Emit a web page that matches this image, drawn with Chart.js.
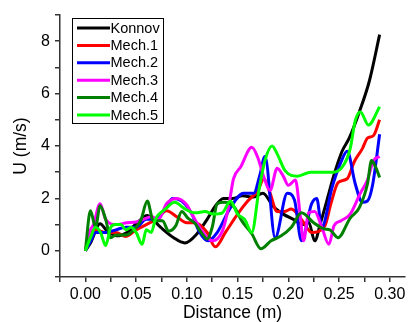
<!DOCTYPE html>
<html>
<head>
<meta charset="utf-8">
<script src="https://cdn.jsdelivr.net/npm/chart.js@4.4.1/dist/chart.umd.min.js"></script>
<style>
    body { margin: 0; background: #fff; }
    #wrap { width: 409px; height: 322px; }
</style>
</head>
<body>
<div id="wrap"><canvas id="myChart"></canvas></div>
<script>
// values (distance in m, velocity U in m/s)
const konnovX = [0, 0.005, 0.0145, 0.021, 0.031, 0.041, 0.051, 0.061, 0.074, 0.087, 0.098, 0.11, 0.12, 0.128, 0.136, 0.145, 0.155, 0.165, 0.175, 0.185, 0.195, 0.205, 0.215, 0.22, 0.226, 0.232, 0.24, 0.245, 0.253, 0.26, 0.27, 0.28, 0.29]
const konnovU = [0, 0.3, 1.03, 0.77, 0.57, 0.7, 1.07, 1.35, 0.9, 0.5, 0.3, 0.65, 1.2, 1.7, 2.0, 2.0, 2.1, 2.05, 2.2, 1.7, 1.4, 1.2, 1.0, 1.1, 0.38, 1.1, 2.2, 2.9, 3.8, 4.3, 5.3, 6.5, 8.25]

const mech1X = [0, 0.005, 0.01, 0.02, 0.03, 0.04, 0.05, 0.06, 0.07, 0.08, 0.09, 0.1, 0.108, 0.12, 0.128, 0.138, 0.15, 0.16, 0.17, 0.176, 0.182, 0.189, 0.196, 0.203, 0.213, 0.223, 0.236, 0.242, 0.249, 0.258, 0.265, 0.273, 0.278, 0.284, 0.29]
const mech1U = [0, 0.6, 0.8, 0.7, 0.7, 0.55, 0.8, 1.0, 1.2, 1.53, 1.3, 1.07, 1.07, 0.7, 0.15, 0.7, 1.4, 1.9, 2.3, 2.75, 2.2, 1.5, 1.5, 1.6, 1.2, 0.7, 0.95, 1.8, 2.6, 2.75, 3.4, 3.9, 4.3, 4.4, 5.0]

const mech2X = [0, 0.005, 0.01, 0.02, 0.03, 0.04, 0.05, 0.06, 0.07, 0.08, 0.086, 0.095, 0.105, 0.112, 0.121, 0.13, 0.143, 0.156, 0.166, 0.172, 0.177, 0.187, 0.199, 0.206, 0.213, 0.223, 0.228, 0.233, 0.243, 0.252, 0.258, 0.266, 0.273, 0.278, 0.283, 0.29]
const mech2U = [0, 0.35, 0.7, 0.7, 0.8, 0.9, 0.9, 1.2, 1.2, 1.7, 2.0, 1.9, 1.4, 0.75, 0.38, 0.7, 1.65, 2.2, 2.2, 2.9, 3.6, 0.5, 2.2, 1.95, 0.38, 1.8, 2.0, 0.9, 2.4, 3.4, 3.8, 2.55, 1.85, 1.9, 2.5, 4.45]

const mech3X = [0, 0.005, 0.008, 0.0145, 0.02, 0.03, 0.041, 0.05, 0.057, 0.065, 0.072, 0.08, 0.09, 0.1, 0.105, 0.115, 0.125, 0.135, 0.141, 0.146, 0.153, 0.164, 0.17, 0.176, 0.182, 0.189, 0.195, 0.2, 0.207, 0.212, 0.215, 0.22, 0.226, 0.233, 0.24, 0.245, 0.252, 0.261, 0.271, 0.278, 0.284, 0.29]
const mech3U = [0, 0.8, 1.0, 1.8, 1.2, 1.0, 1.07, 1.1, 1.2, 1.3, 1.2, 1.8, 2.0, 1.75, 1.4, 0.75, 0.38, 0.75, 1.65, 2.75, 3.2, 3.95, 3.55, 2.8, 2.3, 3.15, 2.85, 2.5, 2.7, 1.25, 0.38, 1.45, 1.5, 0.9, 0.25, 0.95, 1.15, 1.4, 2.2, 2.7, 3.45, 3.6]

const mech4X = [0, 0.005, 0.01, 0.0145, 0.02, 0.025, 0.03, 0.04, 0.05, 0.055, 0.061, 0.067, 0.076, 0.082, 0.089, 0.095, 0.101, 0.108, 0.115, 0.12, 0.125, 0.13, 0.137, 0.147, 0.154, 0.164, 0.173, 0.183, 0.193, 0.203, 0.213, 0.225, 0.235, 0.241, 0.249, 0.261, 0.27, 0.278, 0.282, 0.286, 0.29]
const mech4U = [0, 1.53, 0.9, 1.72, 1.2, 0.5, 0.6, 0.6, 0.9, 1.2, 1.9, 1.15, 1.15, 0.75, 0.95, 1.5, 1.25, 1.05, 0.65, 0.45, 0.9, 1.8, 1.85, 1.65, 1.15, 0.65, 0.08, 0.38, 0.57, 0.9, 1.45, 1.07, 0.84, 0.8, 0.5, 1.25, 1.65, 2.55, 3.45, 3.2, 2.8]

const mech5X = [0, 0.005, 0.01, 0.015, 0.02, 0.025, 0.03, 0.035, 0.04, 0.045, 0.05, 0.056, 0.06, 0.065, 0.069, 0.079, 0.088, 0.098, 0.108, 0.118, 0.126, 0.135, 0.143, 0.15, 0.157, 0.164, 0.171, 0.177, 0.184, 0.189, 0.197, 0.209, 0.222, 0.236, 0.245, 0.255, 0.261, 0.266, 0.271, 0.279, 0.29]
const mech5U = [0, 0.5, 0.9, 0.7, 0.2, 0.9, 1.0, 1.0, 0.8, 0.9, 0.7, 0.25, 0.8, 0.7, 1.2, 1.6, 1.85, 1.6, 1.45, 1.5, 1.4, 1.45, 1.9, 1.4, 1.2, 0.7, 2.3, 3.45, 4.0, 3.7, 3.05, 2.85, 3.0, 3.0, 3.0, 3.3, 3.9, 4.97, 5.3, 4.8, 5.5]

const seriesNames = ["Konnov", "Mech.1", "Mech.2", "Mech.3", "Mech.4", "Mech.5"]
const seriesColours = ["#000000", "#ff0000", "#0000ff", "#ff00ff", "#008000", "#00ff00"]
const seriesX = [konnovX, mech1X, mech2X, mech3X, mech4X, mech5X]
const seriesU = [konnovU, mech1U, mech2U, mech3U, mech4U, mech5U]

const xTickSteps = [-1, 0, 1, 2, 3, 4, 5, 6, 7, 8, 9, 10, 11, 12]   // x 0.025 each
const yTickValues = [-1, 0, 1, 2, 3, 4, 5, 6, 7, 8, 9]

const FONT = "'Liberation Sans', Arial, sans-serif"

// legend box drawn inside the plot, like the original
const boxLegend = {
    id: 'boxLegend',
    afterDraw(chart) {
        const ctx = chart.ctx
        const area = chart.chartArea
        const x0 = area.left + 12.5
        const y0 = area.top + 3.5
        const rowH = 17.4
        const sets = chart.data.datasets
        ctx.save()
        ctx.fillStyle = '#fff'
        ctx.fillRect(x0, y0, 91, 105)
        ctx.strokeStyle = '#000'
        ctx.lineWidth = 1
        ctx.strokeRect(x0, y0, 91, 105)
        ctx.font = '14.5px ' + FONT
        ctx.textBaseline = 'middle'
        for (let i = 0; i < sets.length; i++) {
            const yy = y0 + 9.5 + i * rowH
            ctx.strokeStyle = sets[i].borderColor
            ctx.lineWidth = 3
            ctx.beginPath()
            ctx.moveTo(x0 + 4.5, yy)
            ctx.lineTo(x0 + 37.5, yy)
            ctx.stroke()
            ctx.fillStyle = '#000'
            ctx.fillText(sets[i].label, x0 + 38, yy + 0.5)
        }
        ctx.restore()
    }
}

const datasets = seriesNames.map((name, i) => ({
    label: name,
    data: seriesX[i].map((x, j) => ({x: x, y: seriesU[i][j]})),
    borderColor: seriesColours[i],
    backgroundColor: seriesColours[i],
    borderWidth: 3,
    pointRadius: 0,
    fill: false,
    cubicInterpolationMode: 'monotone',
    order: seriesNames.length - i
}))

const ctx = document.getElementById('myChart').getContext('2d')
const myChart = new Chart(ctx, {
    type: 'line',
    data: { datasets: datasets },
    options: {
        responsive: true,
        maintainAspectRatio: false,
        animation: false,
        layout: { padding: { top: 15, right: 4, left: 0, bottom: 0 } },
        plugins: {
            legend: { display: false },
            tooltip: { enabled: false }
        },
        scales: {
            x: {
                type: 'linear',
                min: -0.025,
                max: 0.315,
                afterBuildTicks: (scale) => {
                    scale.ticks = xTickSteps.map(s => ({ value: s * 0.025 }))
                },
                afterFit: (scale) => { scale.height = 45 },
                ticks: {
                    autoSkip: false,
                    maxRotation: 0,
                    padding: 3,
                    color: '#000',
                    font: { family: FONT, size: 16 },
                    callback: (value, index) => {
                        const s = xTickSteps[index]
                        return s >= 0 && s % 2 === 0 ? (s * 0.025).toFixed(2) : ''
                    }
                },
                grid: { drawOnChartArea: false, drawTicks: true, tickLength: 5, color: '#333', lineWidth: 1.5 },
                border: { display: true, color: '#333', width: 1.5 },
                title: {
                    display: true,
                    text: 'Distance (m)',
                    color: '#000',
                    font: { family: FONT, size: 17.5, lineHeight: 1 },
                    padding: 0
                }
            },
            y: {
                min: -1,
                max: 9,
                afterBuildTicks: (scale) => {
                    scale.ticks = yTickValues.map(v => ({ value: v }))
                },
                afterFit: (scale) => { scale.width = 60 },
                ticks: {
                    autoSkip: false,
                    padding: 5,
                    color: '#000',
                    font: { family: FONT, size: 16 },
                    callback: (value) => (value >= 0 && value % 2 === 0 ? String(value) : '')
                },
                grid: { drawOnChartArea: false, drawTicks: true, tickLength: 5, color: '#333', lineWidth: 1.5 },
                border: { display: true, color: '#333', width: 1.5 },
                title: {
                    display: true,
                    text: 'U (m/s)',
                    color: '#000',
                    font: { family: FONT, size: 17.5 },
                    padding: { top: 11, bottom: 0 }
                }
            }
        }
    },
    plugins: [boxLegend]
})
</script>
</body>
</html>
